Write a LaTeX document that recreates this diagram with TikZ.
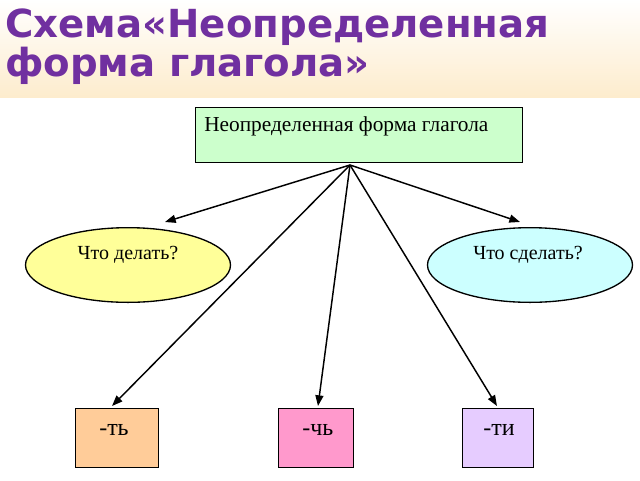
\documentclass[tikz,border=0pt]{standalone}
\usepackage{fontspec}
\setmainfont{Liberation Serif}
\newfontfamily\titlefont{DejaVu Sans}
\usetikzlibrary{shapes.geometric,arrows.meta}
\definecolor{titlepurple}{RGB}{112,48,160}
\definecolor{bandorange}{RGB}{253,236,205}
\begin{document}
\begin{tikzpicture}[x=0.75pt,y=-0.75pt,
    every node/.style={inner sep=0pt},
    box/.style={draw=black,line width=1pt,rectangle,anchor=north west},
    oval/.style={draw=black,line width=1pt,ellipse,minimum width=153.75pt,minimum height=56pt},
    word/.style={anchor=north west,font=\fontsize{16}{18}\selectfont},
    link/.style={draw=black,line width=1.1pt,-{Triangle[length=8pt,width=6pt]}}]
    \useasboundingbox (0,0) rectangle (640,480);
    \shade [top color=white,bottom color=bandorange] (0,0) rectangle (640,97);
    \node [anchor=north west,align=left,text=titlepurple,font=\titlefont\bfseries\fontsize{29}{27}\selectfont] (title) at (5,9) {Схема«Неопределенная\\форма глагола»};
    % top box
    \node [box,fill={rgb,255:red,204;green,255;blue,204},minimum width=245pt,minimum height=41pt] (inf) at (195,107) {};
    \node [word] (inftext) at (204,116) {Неопределенная форма глагола};
    \coordinate (hub) at (350,165);
    % ellipses
    \node [oval,fill={rgb,255:red,255;green,255;blue,153}] (todo) at (128,265) {};
    \node [oval,fill={rgb,255:red,204;green,255;blue,255}] (done) at (530,265) {};
    \node [font=\fontsize{15}{17}\selectfont] (todotext) at (128,255) {Что делать?};
    \node [font=\fontsize{15}{17}\selectfont] (donetext) at (528,255) {Что сделать?};
    % suffix boxes
    \node [box,fill={rgb,255:red,255;green,204;blue,153},minimum width=62pt,minimum height=44pt] (ti1) at (75,408) {};
    \node [box,fill={rgb,255:red,255;green,153;blue,204},minimum width=56pt,minimum height=44pt] (ch) at (278,408) {};
    \node [box,fill={rgb,255:red,230;green,204;blue,255},minimum width=53pt,minimum height=44pt] (ti2) at (462,408) {};
    \node [word,font=\fontsize{18}{20}\selectfont] (ti1text) at (99,424) {-ть};
    \node [word,font=\fontsize{18}{20}\selectfont] (chtext) at (302,424) {-чь};
    \node [word,font=\fontsize{18}{20}\selectfont] (ti2text) at (483,424) {-ти};
    % arrows
    \draw [link] (hub) -- (165,222);
    \draw [link] (hub) -- (520,222);
    \draw [link] (hub) -- (112,406);
    \draw [link] (hub) -- (318,406);
    \draw [link] (hub) -- (497,406);
\end{tikzpicture}
\end{document}
